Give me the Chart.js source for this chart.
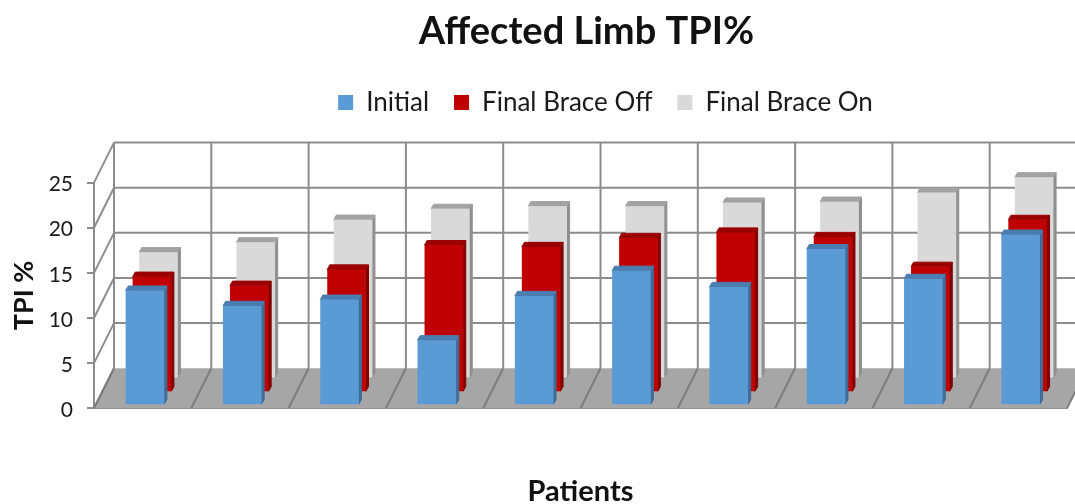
<!DOCTYPE html>
<html>
<head>
<meta charset="utf-8">
<title>Affected Limb TPI%</title>
<script src="https://cdn.jsdelivr.net/npm/chart.js@4"></script>
<style>
  html, body { margin: 0; padding: 0; background: #fff; overflow: hidden; }
  canvas { display: block; }
</style>
</head>
<body>
<canvas id="chart" width="1075" height="504"></canvas>
<script>
const patients = ["1", "2", "3", "4", "5", "6", "7", "8", "9", "10"];
const initial = [12.7, 11.0, 11.7, 7.2, 12.1, 14.9, 13.1, 17.3, 14.0, 18.9];
const braceOff = [12.8, 11.8, 13.6, 16.3, 16.1, 17.1, 17.7, 17.2, 13.9, 19.1];
const braceOn = [14.0, 15.1, 17.6, 18.8, 19.1, 19.1, 19.5, 19.6, 20.6, 22.3];

const FONT = "Lato, 'Open Sans', sans-serif";
const GRID = "#8c8c8c";

// how far the wall sits behind the front axis
const wallDepth = { x: 20, y: -40 };
// each series stands a bit further back on the floor
const seriesShift = [{ x: 2.3, y: -3 }, { x: 9.3, y: -16 }, { x: 15.8, y: -29.7 }];
const faceColors = [
    { side: "#3f6c99", top: "#4a7db0" },
    { side: "#7f0000", top: "#990000" },
    { side: "#8f8f8f", top: "#a3a3a3" }
];
const barDepth = { x: 2.6, y: -4.6 };

function line(ctx, x1, y1, x2, y2) {
    ctx.beginPath();
    ctx.moveTo(x1, y1);
    ctx.lineTo(x2, y2);
    ctx.stroke();
}

const box3d = {
    id: "box3d",
    beforeInit(chart) {
        // leave room between legend and plot
        const fit = chart.legend.fit;
        chart.legend.fit = function () {
            fit.call(this);
            this.height += 57;
        };
    },
    afterLayout(chart) {
        chart.titleBlock.left += 6;
        chart.titleBlock.right += 6;
        chart.legend.left += 25;
        chart.legend.right += 25;
    },
    beforeDatasetsDraw(chart) {
        const ctx = chart.ctx, xs = chart.scales.x, ys = chart.scales.y;
        const left = xs.left, right = xs.right, zero = ys.getPixelForValue(0);
        const dx = wallDepth.x, dy = wallDepth.y;
        const step = (right - left) / patients.length;

        ctx.save();
        ctx.lineWidth = 2;
        ctx.strokeStyle = GRID;

        // floor
        ctx.fillStyle = "#a6a6a6";
        ctx.beginPath();
        ctx.moveTo(left, zero);
        ctx.lineTo(right, zero);
        ctx.lineTo(right + dx, zero + dy);
        ctx.lineTo(left + dx, zero + dy);
        ctx.closePath();
        ctx.fill();

        // back wall and side wall, one rule per tick
        ys.ticks.forEach(t => {
            const y = ys.getPixelForValue(t.value);
            if (t.value > 0) line(ctx, left + dx, y + dy, right + dx, y + dy);
            line(ctx, left, y, left + dx, y + dy);
        });

        const top = ys.getPixelForValue(ys.max) + dy;
        for (let i = 0; i <= patients.length; i++) {
            const x = left + i * step;
            line(ctx, x + dx, top, x + dx, zero + dy);
            ctx.strokeStyle = "#7d7d7d";
            line(ctx, x, zero, x + dx, zero + dy);
            ctx.strokeStyle = GRID;
        }
        ctx.restore();
    },
    beforeDatasetDraw(chart, args) {
        const ctx = chart.ctx;
        const shift = seriesShift[args.index], faces = faceColors[args.index];
        ctx.save();
        ctx.translate(shift.x, shift.y);
        args.meta.data.forEach(bar => {
            const r = bar.x + bar.width / 2, l = bar.x - bar.width / 2;
            const d = barDepth;
            ctx.lineJoin = "round";
            ctx.lineWidth = 1;

            ctx.fillStyle = ctx.strokeStyle = faces.side;
            ctx.beginPath();
            ctx.moveTo(r, bar.base);
            ctx.lineTo(r + d.x, bar.base + d.y);
            ctx.lineTo(r + d.x, bar.y + d.y);
            ctx.lineTo(r, bar.y);
            ctx.closePath();
            ctx.fill();
            ctx.stroke();

            ctx.fillStyle = ctx.strokeStyle = faces.top;
            ctx.beginPath();
            ctx.moveTo(l, bar.y);
            ctx.lineTo(l + d.x, bar.y + d.y);
            ctx.lineTo(r + d.x, bar.y + d.y);
            ctx.lineTo(r, bar.y);
            ctx.closePath();
            ctx.fill();
            ctx.stroke();
        });
    },
    afterDatasetDraw(chart) {
        chart.ctx.restore();
    }
};

new Chart("chart", {
    type: "bar",
    data: {
        labels: patients,
        datasets: [
            { label: "Initial", data: initial, backgroundColor: "#5b9bd5" },
            { label: "Final Brace Off", data: braceOff, backgroundColor: "#c00000" },
            { label: "Final Brace On", data: braceOn, backgroundColor: "#d9d9d9" }
        ]
    },
    plugins: [box3d],
    options: {
        responsive: false,
        animation: false,
        grouped: false,
        barPercentage: 0.397,
        categoryPercentage: 1,
        layout: { padding: { right: 8 } },
        plugins: {
            title: {
                display: true,
                text: "Affected Limb TPI%",
                color: "#111",
                fullSize: false,
                font: { family: FONT, size: 38, weight: "bold", lineHeight: 1.2 },
                padding: { top: 9, bottom: 10 }
            },
            legend: {
                fullSize: false,
                labels: {
                    color: "#1a1a1a",
                    boxWidth: 15,
                    boxHeight: 15,
                    padding: 25,
                    font: { family: FONT, size: 26 }
                }
            },
            tooltip: { enabled: false }
        },
        scales: {
            x: {
                offset: true,
                ticks: { display: false },
                grid: { display: false, drawTicks: false },
                border: { color: GRID, width: 2 },
                title: {
                    display: true,
                    text: "Patients",
                    color: "#111",
                    font: { family: FONT, size: 29, weight: "bold", lineHeight: 1.2 },
                    padding: { top: 66, bottom: -5 }
                }
            },
            y: {
                min: 0,
                max: 25,
                afterFit(scale) { scale.width = 94; },
                ticks: { stepSize: 5, color: "#1a1a1a", padding: 14, labelOffset: 2, font: { family: FONT, size: 21 } },
                grid: { drawOnChartArea: false, color: GRID, tickLength: 7, lineWidth: 2 },
                border: { color: GRID, width: 2 },
                title: {
                    display: true,
                    text: "TPI %",
                    color: "#111",
                    font: { family: FONT, size: 27, weight: "bold", lineHeight: 1.2 },
                    padding: { top: 8, bottom: 0 }
                }
            }
        }
    }
});
</script>
</body>
</html>
